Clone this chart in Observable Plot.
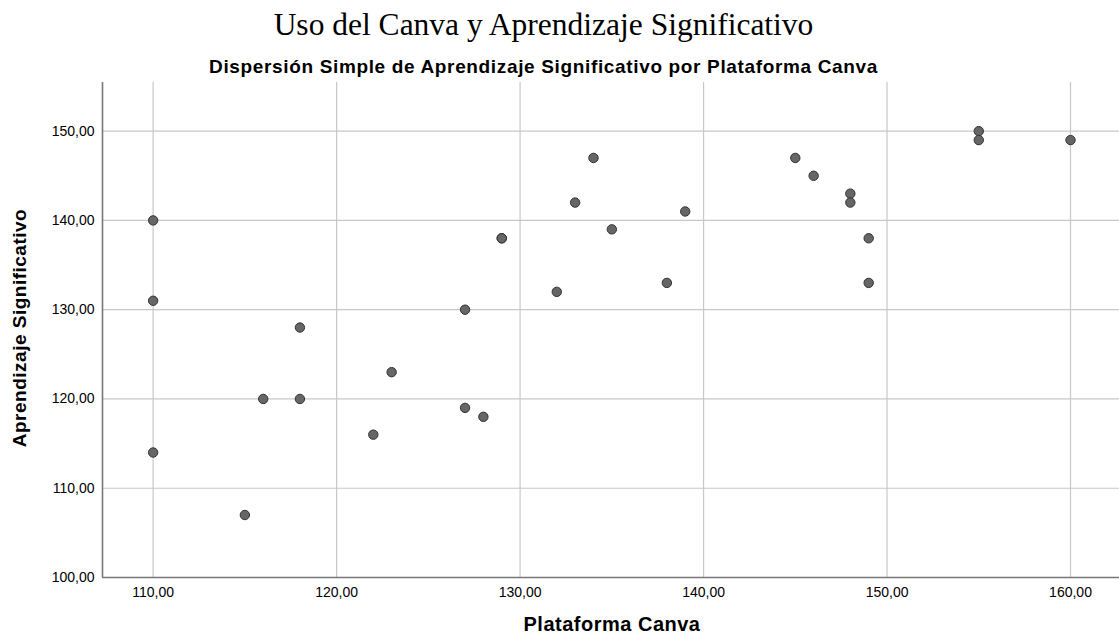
<!DOCTYPE html>
<html>
<head>
<meta charset="utf-8">
<script src="https://cdn.jsdelivr.net/npm/d3@7"></script>
<script src="https://cdn.jsdelivr.net/npm/@observablehq/plot@0.6"></script>
<style>
  html, body { margin: 0; padding: 0; background: #fff; }
  #wrap { position: relative; width: 1119px; height: 636px; overflow: hidden; font-family: "Liberation Sans", Arial, sans-serif; }
  #title { position: absolute; left: 0; width: 1087px; top: 9px; line-height: 1; text-align: center; font-family: "Liberation Serif", "Times New Roman", serif; font-size: 31.5px; color: #000; white-space: nowrap; }
  #subtitle { position: absolute; left: 0; width: 1087px; top: 57px; line-height: 1; text-align: center; font-weight: bold; font-size: 19px; letter-spacing: 0.65px; color: #000; white-space: nowrap; }
  #xlabel { position: absolute; left: 102px; width: 1020px; top: 614px; line-height: 1; text-align: center; font-weight: bold; font-size: 20px; letter-spacing: 0.5px; color: #000; white-space: nowrap; }
  #ylabel { position: absolute; left: 19px; top: 328px; line-height: 1; transform: translate(-50%, -50%) rotate(-90deg); font-weight: bold; font-size: 19px; letter-spacing: 0.5px; color: #000; white-space: nowrap; }
  #chart { position: absolute; left: 0; top: 0; }
</style>
</head>
<body>
<div id="wrap">
  <div id="chart"></div>
  <div id="title">Uso del Canva y Aprendizaje Significativo</div>
  <div id="subtitle">Dispersión Simple de Aprendizaje Significativo por Plataforma Canva</div>
  <div id="xlabel">Plataforma Canva</div>
  <div id="ylabel">Aprendizaje Significativo</div>
</div>
<script>
const plataformaCanva = [110, 110, 110, 115, 116, 118, 118, 122, 123, 127, 127, 128, 129, 129, 132, 133, 134, 135, 138, 139, 145, 146, 148, 148, 149, 149, 155, 155, 160];
const aprendizajeSignificativo = [140, 131, 114, 107, 120, 128, 120, 116, 123, 130, 119, 118, 138, 138, 132, 142, 147, 139, 133, 141, 147, 145, 143, 142, 138, 133, 150, 149, 149];
const xTicks = [110, 120, 130, 140, 150, 160];
const yTicks = [100, 110, 120, 130, 140, 150];
const xDomain = [107.24, 162.67];
const yDomain = [100, 155.45];

const data = plataformaCanva.map((x, i) => ({x, y: aprendizajeSignificativo[i]}));
const fmt = d => d3.format(".2f")(d).replace(".", ",");

const chart = Plot.plot({
  width: 1119,
  height: 636,
  marginLeft: 102,
  marginRight: 0,
  marginTop: 82,
  marginBottom: 59,
  style: {fontFamily: "'Liberation Sans', Arial, sans-serif", fontSize: "14px", color: "#000", background: "#fff"},
  x: {domain: xDomain, ticks: xTicks},
  y: {domain: yDomain, ticks: yTicks},
  marks: [
    Plot.gridX(xTicks, {stroke: "#c8c8c8", strokeOpacity: 1, strokeWidth: 1.2}),
    Plot.gridY(yTicks, {stroke: "#c8c8c8", strokeOpacity: 1, strokeWidth: 1.2}),
    Plot.ruleX([xDomain[0]], {stroke: "#777", strokeWidth: 1.6}),
    Plot.ruleY([yDomain[0]], {stroke: "#777", strokeWidth: 1.6}),
    Plot.axisX(xTicks, {tickSize: 0, tickPadding: 10, tickFormat: fmt, label: null, fontSize: 14}),
    Plot.axisY(yTicks, {tickSize: 0, tickPadding: 8, tickFormat: fmt, label: null, fontSize: 14}),
    Plot.dot(data, {x: "x", y: "y", r: 4.7, fill: "#666", stroke: "#333", strokeWidth: 1})
  ]
});
document.getElementById("chart").appendChild(chart);
</script>
</body>
</html>
